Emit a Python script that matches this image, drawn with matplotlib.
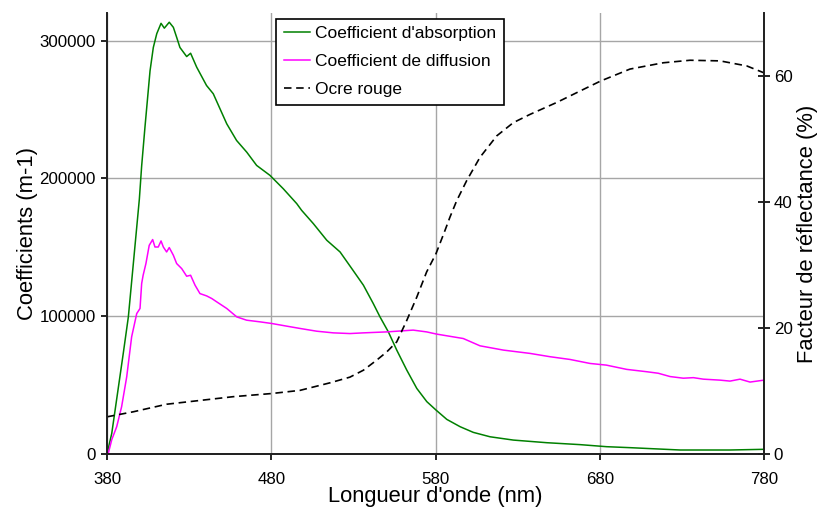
import matplotlib
matplotlib.use("Agg")
import matplotlib.pyplot as plt

plt.rcParams['font.family'] = ['Liberation Sans', 'DejaVu Sans']

# coefficient d'absorption (m-1)
wl_abs = [380, 382.9, 389.9, 393.0, 399.7, 401.1, 403.1, 406.2, 408.2, 410.3,
          412.9, 414.9, 417.9, 420.4, 422.4, 424.4, 428.5, 430.9, 434.6, 440.6,
          444.7, 448.8, 452.9, 458.9, 465.1, 471.1, 479.2, 487.3, 495.5, 498.5,
          505.6, 513.8, 521.9, 529.0, 536.1, 542.1, 546.2, 551.3, 556.4, 562.5,
          568.6, 574.7, 580.3, 586.9, 595.0, 603.0, 613.2, 627.4, 647.7, 668.0,
          684.2, 698.4, 728.9, 759.3, 780]
abs_coef = [0, 15000, 73000, 99500, 185000, 209000, 237000, 278000, 295000, 305000,
            312500, 309000, 313300, 309600, 302400, 295000, 288400, 290800, 280700, 267400,
            261400, 250500, 239600, 227500, 219000, 209400, 202200, 192500, 181700, 176800,
            167200, 155100, 146600, 134600, 122500, 109200, 99500, 88600, 75400, 60900,
            47600, 38000, 31900, 25100, 19800, 15700, 12500, 10100, 8200, 6800,
            5300, 4600, 2900, 2900, 3400]

# coefficient de diffusion (m-1)
wl_diff = [380, 380.8, 382.9, 385.9, 388.9, 392.0, 395.0, 398.1, 400.1, 401.1,
           402.0, 403.7, 405.7, 407.8, 409.2, 411.2, 412.9, 414.3, 416.3, 417.9,
           420.4, 422.4, 425.5, 428.5, 430.9, 433.6, 436.6, 440.7, 443.8, 446.8,
           452.9, 459.0, 465.0, 473.1, 480.3, 489.3, 497.5, 507.7, 517.8, 527.9,
           536.1, 550.3, 566.4, 574.6, 580.7, 590.8, 596.9, 607.1, 621.3, 637.5,
           649.7, 661.9, 674.1, 684.0, 696.4, 708.6, 715.6, 722.8, 730.9, 737.0,
           743.1, 753.2, 759.3, 765.4, 771.5, 780]
diff_coef = [0, 500, 10400, 19800, 34300, 56000, 85000, 101900, 105600, 123700,
             129700, 138200, 151400, 155600, 150200, 150200, 154600, 150200, 146600, 149800,
             144200, 138200, 134500, 129000, 129700, 122500, 116400, 114700, 112800, 110400,
             105600, 99500, 97100, 95900, 94700, 92800, 91100, 89100, 87900, 87400,
             87900, 88600, 89900, 88600, 87000, 85000, 83800, 78500, 75400, 73000,
             70600, 68600, 65700, 64500, 61400, 59700, 58600, 56200, 55000, 55400,
             54300, 53600, 52900, 54300, 52200, 53600]

# ocre rouge, facteur de reflectance (%)
wl_ocre = [380, 396, 416.3, 436.6, 456.9, 480.3, 497.5, 515.8, 527.9, 536.1,
           544.2, 550.3, 556.4, 562.5, 568.6, 574.6, 580.3, 585.8, 588.8, 592.9,
           599.0, 607.1, 617.3, 627.4, 637.5, 653.8, 667.9, 680.5, 698.4, 718.7,
           735.0, 753.2, 769.5, 780]
ocre_refl = [5.9, 6.7, 7.9, 8.5, 9.1, 9.6, 10.1, 11.3, 12.2, 13.3,
             14.9, 16.2, 17.8, 21.2, 24.9, 28.9, 31.8, 35.5, 37.6, 40.2,
             43.4, 47.1, 50.5, 52.6, 53.9, 55.8, 57.6, 59.2, 61.1, 62.1,
             62.5, 62.4, 61.6, 60.5]

x_ticks = [380, 480, 580, 680, 780]

fig = plt.figure(figsize=(8.24, 5.09), dpi=100)
ax = fig.add_axes([107 / 824, 55 / 509, 657 / 824, 441 / 509])
ax2 = ax.twinx()

l1, = ax.plot(wl_abs, abs_coef, color="#008000", lw=1.1, label="Coefficient d'absorption")
l2, = ax.plot(wl_diff, diff_coef, color="#FF00FF", lw=1.1, label="Coefficient de diffusion")
l3, = ax2.plot(wl_ocre, ocre_refl, color="black", lw=1.2, linestyle=(0, (4.5, 2.8)),
               label="Ocre rouge")

ax.set_xlim(380, 780)
ax.set_ylim(0, 320000)
ax2.set_ylim(0, 70)
ax.set_xticks(x_ticks)
ax.set_yticks([0, 100000, 200000, 300000])
ax2.set_yticks([0, 20, 40, 60])

ax.grid(True, color="#a6a6a6", lw=1.0)
ax.set_axisbelow(True)

for a in (ax, ax2):
    a.spines['top'].set_visible(False)
    for s in ('left', 'right', 'bottom'):
        a.spines[s].set_linewidth(1.3)
        a.spines[s].set_color("#222222")

ax.tick_params(axis='x', direction='out', length=4, width=1.2, labelsize=12.2, pad=9)
ax.tick_params(axis='y', direction='out', length=4, width=1.2, labelsize=12.2, pad=4)
ax2.tick_params(axis='y', direction='inout', length=8, width=1.2, labelsize=12.2, pad=3)

ax.set_xlabel("Longueur d'onde (nm)", fontsize=15.8, labelpad=-1)
ax.set_ylabel("Coefficients (m-1)", fontsize=15.8, labelpad=1)
ax2.set_ylabel("Facteur de réflectance (%)", fontsize=15.8, labelpad=3)

leg = ax2.legend(handles=[l1, l2, l3], loc='upper left',
                 bbox_to_anchor=(276 / 824, 1 - 18.5 / 509), bbox_transform=fig.transFigure,
                 borderaxespad=0, fontsize=12.5, fancybox=False, framealpha=1,
                 edgecolor="black", handlelength=1.5, handletextpad=0.3,
                 labelspacing=0.72, borderpad=0.45)
leg.get_frame().set_linewidth(1.2)

fig.savefig("out.png", dpi=100)
